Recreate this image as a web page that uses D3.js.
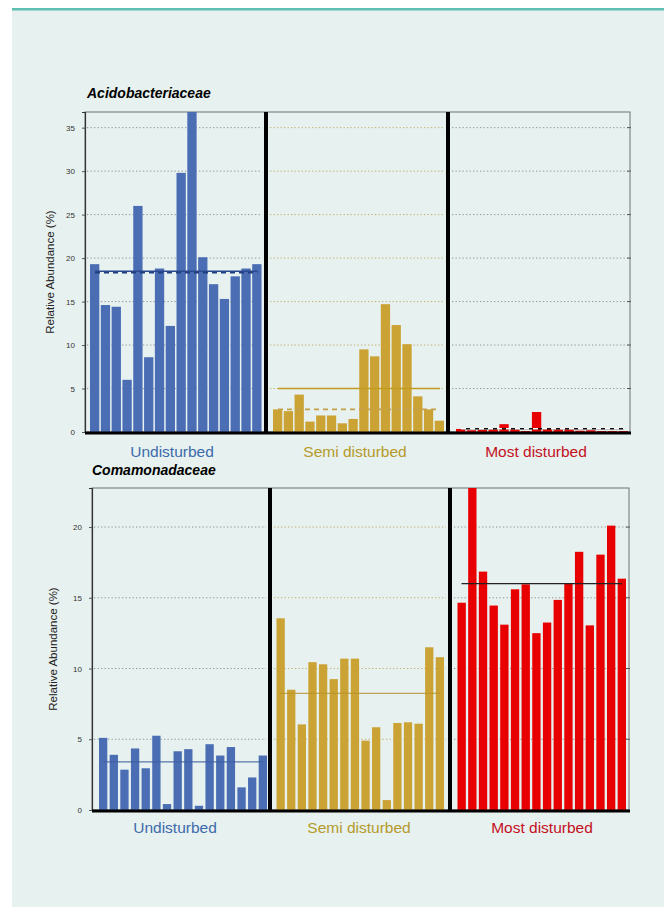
<!DOCTYPE html>
<html>
<head>
<meta charset="utf-8">
<script src="https://cdn.jsdelivr.net/npm/d3@7"></script>
<style>
  html, body { margin: 0; padding: 0; background: #ffffff; }
  svg { display: block; font-family: "Liberation Sans", Arial, Helvetica, sans-serif; }
</style>
</head>
<body>
<svg id="chart" width="664" height="907"></svg>
<script>
// ---------------- DATA ----------------
const groups = ["Undisturbed", "Semi disturbed", "Most disturbed"];

const acidoTitle = "Acidobacteriaceae";
const acidoUndisturbed = [19.3, 14.6, 14.4, 6.0, 26.0, 8.6, 18.8, 12.2, 29.8, 40.0, 20.1, 17.0, 15.3, 17.9, 18.8, 19.3];
const acidoSemi        = [2.6, 2.4, 4.3, 1.2, 1.9, 1.9, 1.0, 1.5, 9.5, 8.7, 14.7, 12.3, 10.1, 4.1, 2.6, 1.3];
const acidoMost        = [0.35, 0.2, 0.25, 0.3, 0.9, 0.3, 0.1, 2.3, 0.35, 0.3, 0.3, 0.15, 0.2, 0.1, 0.1, 0.1];
const acidoMeanSolid   = [18.5, 5.0, 0.38];
const acidoMeanDashed  = [18.4, 2.6, 0.38];
const acidoTicks = [0, 5, 10, 15, 20, 25, 30, 35];

const comaTitle = "Comamonadaceae";
const comaUndisturbed = [5.1, 3.9, 2.85, 4.35, 2.95, 5.25, 0.42, 4.15, 4.3, 0.3, 4.65, 3.85, 4.45, 1.6, 2.3, 3.85];
const comaSemi        = [13.55, 8.5, 6.05, 10.45, 10.3, 9.25, 10.7, 10.7, 4.9, 5.85, 0.7, 6.15, 6.2, 6.1, 11.5, 10.8];
const comaMost        = [14.65, 24.0, 16.85, 14.45, 13.1, 15.6, 15.95, 12.5, 13.25, 14.85, 16.0, 18.25, 13.05, 18.05, 20.1, 16.35];
const comaMeanSolid   = [3.4, 8.25, 16.0];
const comaTicks = [0, 5, 10, 15, 20];

const yLabel = "Relative Abundance (%)";

// ---------------- STYLE ----------------
const barColors   = ["#4a6db4", "#cba334", "#e80000"];
const labelColors = ["#3c6aac", "#b59a2b", "#c4101e"];
const gridColors  = ["#8f9696", "#c2ad6c", "#8f9696"];

const svg = d3.select("#chart");

// page background
svg.append("rect").attr("x", 12).attr("y", 9).attr("width", 652).attr("height", 898).attr("fill", "#e7f1ef");
svg.append("rect").attr("x", 12).attr("y", 8).attr("width", 652).attr("height", 2.5).attr("fill", "#5fc0b2");

function drawPanel(cfg) {
  const g = svg.append("g");
  const y = d3.scaleLinear().domain([0, cfg.yMax]).range([cfg.y1, cfg.y0]);

  const clipId = "clip" + cfg.id;
  svg.append("defs").append("clipPath").attr("id", clipId)
    .append("rect").attr("x", cfg.x0).attr("y", cfg.y0).attr("width", cfg.x1 - cfg.x0).attr("height", cfg.y1 - cfg.y0);

  // plot frame (thin)
  g.append("rect").attr("x", cfg.x0).attr("y", cfg.y0).attr("width", cfg.x1 - cfg.x0).attr("height", cfg.y1 - cfg.y0)
    .attr("fill", "none").attr("stroke", "#6f7474").attr("stroke-width", 1);

  // gridlines per section
  cfg.sections.forEach((sec, i) => {
    g.append("g").selectAll("line").data(cfg.ticks.filter(t => t > 0)).join("line")
      .attr("x1", sec[0] + 2).attr("x2", sec[1] - 2)
      .attr("y1", d => y(d)).attr("y2", d => y(d))
      .attr("stroke", gridColors[i]).attr("stroke-width", 1).attr("stroke-dasharray", "1.3,2.2");
  });

  // right side little ticks
  g.append("g").selectAll("line").data(cfg.ticks.filter(t => t > 0)).join("line")
    .attr("x1", cfg.x1 - 3).attr("x2", cfg.x1 + 1)
    .attr("y1", d => y(d)).attr("y2", d => y(d))
    .attr("stroke", "#555").attr("stroke-width", 1);

  // y axis
  const axis = d3.axisLeft(y).tickValues(cfg.ticks).tickSize(3).tickPadding(7).tickFormat(d3.format("d"));
  const ax = g.append("g").attr("transform", `translate(${cfg.x0},0)`).call(axis);
  ax.select(".domain").attr("stroke", "#333").attr("stroke-width", 1.2);
  ax.selectAll(".tick line").attr("stroke", "#555");
  ax.selectAll(".tick text").attr("font-size", 8).attr("fill", "#333");

  // y label
  g.append("text")
    .attr("transform", `translate(${cfg.yLabelX},${(cfg.y0 + cfg.y1) / 2}) rotate(-90)`)
    .attr("text-anchor", "middle").attr("dominant-baseline", "middle")
    .attr("font-size", 11.5).attr("fill", "#222").text(yLabel);

  // bars and mean lines
  cfg.series.forEach((vals, i) => {
    const x = d3.scaleBand().domain(d3.range(vals.length)).range(cfg.barRanges[i]).paddingInner(cfg.padding).paddingOuter(0);
    g.append("g").attr("clip-path", `url(#${clipId})`).selectAll("rect").data(vals).join("rect")
      .attr("x", (d, j) => x(j)).attr("width", x.bandwidth())
      .attr("y", d => y(d)).attr("height", d => y(0) - y(d))
      .attr("fill", barColors[i]);

    const lx1 = cfg.barRanges[i][0] + cfg.meanInset[0];
    const lx2 = cfg.barRanges[i][1] - cfg.meanInset[1];
    if (cfg.meanSolid && cfg.meanSolid[i] != null) {
      g.append("line").attr("x1", lx1).attr("x2", lx2)
        .attr("y1", y(cfg.meanSolid[i])).attr("y2", y(cfg.meanSolid[i]))
        .attr("stroke", cfg.solidColors[i]).attr("stroke-width", cfg.solidWidth).attr("stroke-opacity", cfg.solidOpacity[i]);
    }
    if (cfg.meanDashed && cfg.meanDashed[i] != null) {
      g.append("line").attr("x1", lx1).attr("x2", lx2)
        .attr("y1", y(cfg.meanDashed[i]) + cfg.dashOffset[i]).attr("y2", y(cfg.meanDashed[i]) + cfg.dashOffset[i])
        .attr("stroke", cfg.dashedColors[i]).attr("stroke-width", 1.6).attr("stroke-dasharray", "5,4");
    }
  });

  // bottom thick axis line
  g.append("line").attr("x1", cfg.x0).attr("x2", cfg.x1 + 1).attr("y1", cfg.y1 + 1).attr("y2", cfg.y1 + 1)
    .attr("stroke", "#000").attr("stroke-width", 3);

  // thick dividers
  cfg.dividers.forEach(dx => {
    g.append("line").attr("x1", dx).attr("x2", dx).attr("y1", cfg.y0).attr("y2", cfg.y1 + 2)
      .attr("stroke", "#000").attr("stroke-width", 4);
  });

  // title
  g.append("text").attr("x", cfg.titleX).attr("y", cfg.titleY)
    .attr("font-size", 14).attr("font-weight", "bold").attr("font-style", "italic").attr("fill", "#000")
    .text(cfg.title);

  // group labels
  groups.forEach((name, i) => {
    g.append("text").attr("x", cfg.labelX[i]).attr("y", cfg.labelY)
      .attr("text-anchor", "middle").attr("font-size", 15.5).attr("fill", labelColors[i]).text(name);
  });
}

drawPanel({
  id: "top",
  title: acidoTitle, titleX: 87, titleY: 98,
  x0: 85, x1: 630, y0: 112, y1: 432, yMax: 36.8,
  ticks: acidoTicks, yLabelX: 51,
  sections: [[85, 264], [268, 446], [450, 630]],
  dividers: [266, 448],
  barRanges: [[90, 261.5], [273, 444], [456, 628]],
  padding: 0.14,
  series: [acidoUndisturbed, acidoSemi, acidoMost],
  meanSolid: acidoMeanSolid, solidColors: ["#2b4a8f", "#c49b22", "#111"], solidWidth: 1.5, solidOpacity: [1, 1, 1],
  meanDashed: acidoMeanDashed, dashedColors: ["#1f3f80", "#c4a04a", "#ffffff"], dashOffset: [0.6, 0, 0],
  meanInset: [5, 4],
  labelX: [172, 355, 536], labelY: 457
});

drawPanel({
  id: "bottom",
  title: comaTitle, titleX: 92, titleY: 475,
  x0: 92, x1: 629, y0: 488, y1: 810, yMax: 22.76,
  ticks: comaTicks, yLabelX: 54,
  sections: [[92, 268], [272, 448], [452, 629]],
  dividers: [270, 450],
  barRanges: [[99, 267], [276.5, 444], [457.5, 626]],
  padding: 0.22,
  series: [comaUndisturbed, comaSemi, comaMost],
  meanSolid: comaMeanSolid, solidColors: ["#3d5f9e", "#b8922a", "#222"], solidWidth: 1.3, solidOpacity: [0.85, 0.8, 1],
  meanDashed: null, dashedColors: [], dashOffset: [0, 0, 0],
  meanInset: [4, 4],
  labelX: [175, 359, 542], labelY: 833
});
</script>
</body>
</html>
